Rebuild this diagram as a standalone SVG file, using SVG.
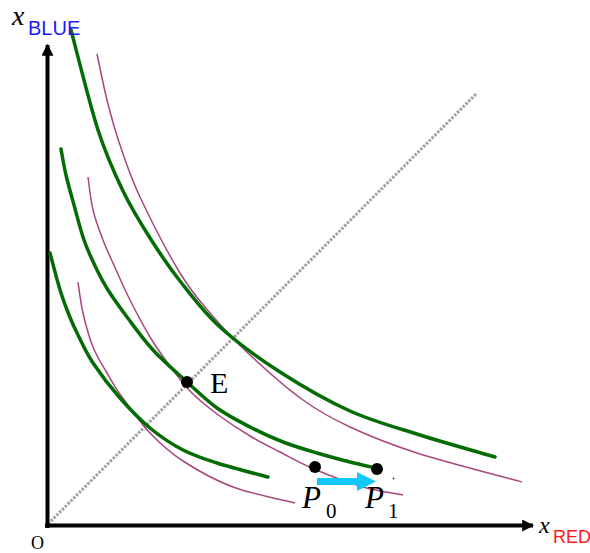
<svg xmlns="http://www.w3.org/2000/svg" width="590" height="553" viewBox="0 0 590 553">
<defs>
<style>
.g{fill:none;stroke:#046c04;stroke-width:3.5;stroke-linecap:round}
.m{fill:none;stroke:#a8467f;stroke-width:1.5}
.dot{fill:#000}
.ser{font-family:"Liberation Serif",serif;fill:#000}
.sub{font-family:"Liberation Sans",Arial,sans-serif}
</style>
<marker id="ah" viewBox="0 0 10 10" refX="9" refY="5" markerWidth="3" markerHeight="3" orient="auto"><path d="M0,0 L10,5 L0,10 Z" fill="#000"/></marker>
</defs>
<rect width="590" height="553" fill="#fff"/>
<g id="diagonal"><line x1="48" y1="524" x2="477" y2="93" stroke="#a0a0a0" stroke-width="3" stroke-dasharray="2.5 1.5"/></g>
<g id="axes">
<line x1="47.5" y1="528" x2="47.5" y2="45" stroke="#000" stroke-width="4" marker-end="url(#ah)"/>
<line x1="45" y1="525.5" x2="533" y2="525.5" stroke="#000" stroke-width="4" marker-end="url(#ah)"/>
</g>
<g id="connectors">
<path id="m1" class="m" d="M97,54 C98.7,61.7 103.2,84.8 107,100 C110.8,115.2 114.5,128.8 120,145 C125.5,161.2 130,175.7 140,197 C150,218.3 168.3,253.7 180,273 C191.7,292.3 198.3,299.3 210,313 C221.7,326.7 234.5,340.5 250,355 C265.5,369.5 286.3,388 303,400 C319.7,412 331,418.2 350,427 C369,435.8 388.3,443.8 417,453 C445.7,462.2 504.5,477.2 522,482"/>
<path id="m2" class="m" d="M88,177 C88.8,182.5 90.5,199.5 93,210 C95.5,220.5 99,229.7 103,240 C107,250.3 112.5,262 117,272 C121.5,282 124.5,289.2 130,300 C135.5,310.8 143.8,326.7 150,337 C156.2,347.3 160.3,353 167,362 C173.7,371 181.7,382.3 190,391 C198.3,399.7 207,406.5 217,414 C227,421.5 239.5,429.7 250,436 C260.5,442.3 269.3,446.5 280,452 C290.7,457.5 300.2,463.2 314,469 C327.8,474.8 348.2,482.7 363,487 C377.8,491.3 396.3,493.7 403,495"/>
<path id="m3" class="m" d="M78,282 C78.8,287.2 80.5,302.2 83,313 C85.5,323.8 89,337 93,347 C97,357 102.2,364.7 107,373 C111.8,381.3 114.8,387 122,397 C129.2,407 139.8,422.3 150,433 C160.2,443.7 169.2,452 183,461 C196.8,470 214.3,480 233,487 C251.7,494 284.7,500.3 295,503"/>
<path id="g1" class="g" d="M71,30 C75.5,46.7 89.3,103.2 98,130 C106.7,156.8 114.3,173 123,191 C131.7,209 140.5,223 150,238 C159.5,253 168.3,266.2 180,281 C191.7,295.8 203.3,311.8 220,327 C236.7,342.2 258.3,358 280,372 C301.7,386 326.7,400.5 350,411 C373.3,421.5 395.8,427.3 420,435 C444.2,442.7 482.5,453.3 495,457"/>
<path id="g2" class="g" d="M61,149 C61.8,153.3 63.8,165.7 66,175 C68.2,184.3 71,194.2 74,205 C77,215.8 80.2,229.2 84,240 C87.8,250.8 93,261.7 97,270 C101,278.3 103,282.2 108,290 C113,297.8 119.5,307 127,317 C134.5,327 143,339.2 153,350 C163,360.8 176.3,372.3 187,382 C197.7,391.7 206.5,400.5 217,408 C227.5,415.5 239,421.3 250,427 C261,432.7 271.8,437.7 283,442 C294.2,446.3 305.8,449.7 317,453 C328.2,456.3 340.2,459.5 350,462 C359.8,464.5 371.7,467 376,468"/>
<path id="g3" class="g" d="M50,253 C50.8,256.2 53.2,265.3 55,272 C56.8,278.7 58.7,285.8 61,293 C63.3,300.2 66.2,308 69,315 C71.8,322 74,327 78,335 C82,343 86,352.5 93,363 C100,373.5 110.5,387.2 120,398 C129.5,408.8 139.5,419.3 150,428 C160.5,436.7 171.8,444.2 183,450 C194.2,455.8 202.8,458.5 217,463 C231.2,467.5 259.5,474.7 268,477"/>
<g id="shift-arrow">
<line x1="317" y1="481.5" x2="360" y2="481.5" stroke="#10c8f8" stroke-width="7"/>
<path d="M357,472 L376,481.5 L357,491 Z" fill="#10c8f8"/>
</g>
</g>
<g id="E"><circle class="dot" cx="187" cy="382" r="6"/><text class="ser" x="210" y="393" font-size="30">E</text></g>
<g id="P0"><circle class="dot" cx="315" cy="467" r="6"/><text class="ser" x="302" y="508" font-size="31" font-style="italic">P</text><text class="ser" x="326" y="518" font-size="21">0</text></g>
<g id="P1"><circle class="dot" cx="377" cy="469" r="6"/><text class="ser" x="365" y="508" font-size="31" font-style="italic">P</text><text class="ser" x="388" y="518" font-size="21">1</text></g>
<circle cx="393.5" cy="478.5" r="0.9" fill="#333"/>
<g id="labels">
<text class="ser" x="12" y="25" font-size="28" font-style="italic">x</text>
<text class="sub" x="28" y="35" font-size="20" fill="#1a1aff">BLUE</text>
<text class="ser" x="539" y="533" font-size="24" font-style="italic">x</text>
<text class="sub" x="553" y="543" font-size="18" fill="#ff1a1a">RED</text>
<text class="ser" x="31" y="549" font-size="18">O</text>
</g>
</svg>
